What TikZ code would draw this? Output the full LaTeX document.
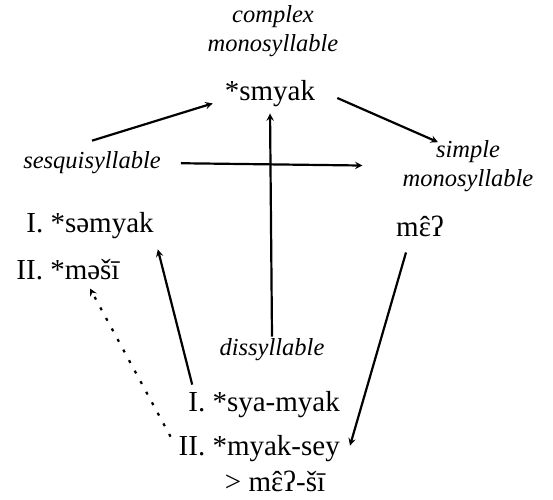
\documentclass[tikz,border=0pt]{standalone}
\usepackage{fontspec}
\setmainfont{Liberation Serif}
\usepackage{tikz}
\usetikzlibrary{arrows}

% open e with a circumflex set over it
\newcommand{\epscirc}{\ooalign{ɛ\cr\hfil ˆ\hfil\cr}}

\tikzset{
	form/.style={inner sep=2pt, font=\fontsize{29}{31}\selectfont},
	kind/.style={inner sep=2pt, align=center, font=\fontsize{24.5}{29}\selectfont\itshape},
	change/.style={line width=2.2pt, -stealth}
}

\begin{document}
\begin{tikzpicture}[x=1pt,y=-1pt]
	\useasboundingbox (0,0) rectangle (553,499);
	% syllable types
	\node[kind] (cplx) at (273,31) {complex\\monosyllable};
	\node[kind] (sesq) at (92,163) {sesquisyllable};
	\node[kind] (smpl) at (468,166) {simple\\monosyllable};
	\node[kind] (diss) at (272,350) {dissyllable};
	% reconstructed forms
	\node[form] (smyak) at (270,94) {*smyak};
	\node[form] (semyak) at (90,226) {I. *səmyak};
	\node[form] (mesi) at (68,270) {II. *məšī};
	\node[form] (meq) at (420,226) {m\epscirc ʔ};
	\node[form, anchor=east] (syamyak) at (342,405) {I. *sya-myak};
	\node[form, anchor=east] (myaksey) at (342,449) {II. *myak-sey};
	\node[form] (reflex) at (275,481) {> m\epscirc ʔ-šī};
	\path[change]
	([yshift=9pt]sesq.north) edge ([xshift=-10pt,yshift=6pt]smyak.south west)
	([xshift=20pt,yshift=-4pt]smyak.east) edge ([xshift=-30pt,yshift=-4pt]smpl.north)
	(sesq.east) edge[shorten <=18pt, shorten >=38pt] (smpl.west)
	(diss.north) edge[shorten >=4pt] (smyak.south)
	([xshift=6pt,yshift=5pt]syamyak.north west) edge ([xshift=2pt,yshift=-8pt]semyak.south east)
	([xshift=-14pt,yshift=-14pt]meq.south) edge ([xshift=8pt,yshift=-12pt]myaksey.north east);
	\draw[change, dash pattern=on 3pt off 9pt] ([xshift=-6pt,yshift=-3pt]myaksey.north west) -- ([xshift=22pt,yshift=-6pt]mesi.south);
\end{tikzpicture}
\end{document}
